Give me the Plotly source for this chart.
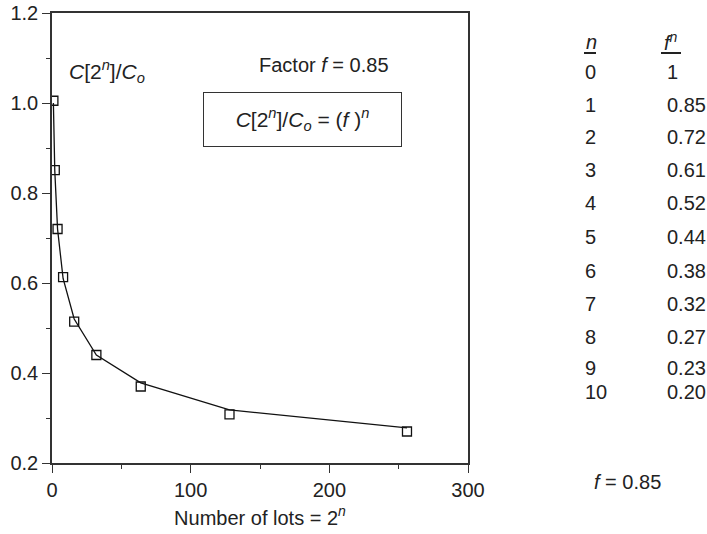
import plotly.graph_objects as go

# lots = 2^n, measured concentration ratio and the f^n curve
lots = [1, 2, 4, 8, 16, 32, 64, 128, 256]
ratio_measured = [1.005, 0.851, 0.72, 0.613, 0.514, 0.44, 0.37, 0.308, 0.27]
ratio_curve = [1.0, 0.85, 0.72, 0.61, 0.52, 0.44, 0.378, 0.318, 0.278]

# table on the right
n_vals = ["0", "1", "2", "3", "4", "5", "6", "7", "8", "9", "10"]
fn_vals = ["1", "0.85", "0.72", "0.61", "0.52", "0.44", "0.38", "0.32", "0.27", "0.23", "0.20"]
row_px = [72, 105, 137, 170, 203, 237, 271, 304, 337, 368, 392]

FONT = "Liberation Sans, Arial, sans-serif"
INK = "#222222"
AX = "#333333"

fig = go.Figure()
fig.add_trace(go.Scatter(x=lots, y=ratio_curve, mode="lines",
                         line=dict(color="#111111", width=1.3), showlegend=False))
fig.add_trace(go.Scatter(x=lots, y=ratio_measured, mode="markers",
                         marker=dict(symbol="square-open", size=9, color="#111111",
                                     line=dict(width=1.3)), showlegend=False))

# plot area spans px 52..468 x 13..463
def py(y):
    return (463 - y) / 450

def px_(x):
    return (x - 52) / 416

ann = []
ann.append(dict(x=px_(67), y=py(72), xref="paper", yref="paper", xanchor="left", yanchor="middle",
                text="<i>C</i>[2<sup><i>n</i></sup>]/<i>C</i><sub><i>o</i></sub>", showarrow=False,
                font=dict(size=21)))
ann.append(dict(x=px_(257), y=py(65), xref="paper", yref="paper", xanchor="left", yanchor="middle",
                text="Factor <i>f</i> = 0.85", showarrow=False))
ann.append(dict(x=px_(302.5), y=py(119.5), xref="paper", yref="paper", xanchor="center", yanchor="middle",
                text="<i>C</i>[2<sup><i>n</i></sup>]/<i>C</i><sub><i>o</i></sub> = (<i>f</i> )<sup><i>n</i></sup>",
                font=dict(size=21),
                showarrow=False, bordercolor=AX, borderwidth=1, borderpad=0,
                width=197, height=53))

ann.append(dict(x=px_(584), y=py(42), xref="paper", yref="paper", xanchor="left", yanchor="middle",
                text="<i>n</i>", showarrow=False))
ann.append(dict(x=px_(662), y=py(42), xref="paper", yref="paper", xanchor="left", yanchor="middle",
                text="<i>f</i><sup><i>n</i></sup>", showarrow=False))
for n, v, yy in zip(n_vals, fn_vals, row_px):
    ann.append(dict(x=px_(583), y=py(yy), xref="paper", yref="paper", xanchor="left", yanchor="middle",
                    text=n, showarrow=False))
    ann.append(dict(x=px_(665), y=py(yy), xref="paper", yref="paper", xanchor="left", yanchor="middle",
                    text=v, showarrow=False))
ann.append(dict(x=px_(627), y=py(482), xref="paper", yref="paper", xanchor="center", yanchor="middle",
                text="<i>f</i> = 0.85", showarrow=False))

# header underlines
shapes = [
    dict(type="line", xref="paper", yref="paper", x0=px_(584), x1=px_(596), y0=py(53), y1=py(53),
         line=dict(color=INK, width=2)),
    dict(type="line", xref="paper", yref="paper", x0=px_(661), x1=px_(681), y0=py(53), y1=py(53),
         line=dict(color=INK, width=2)),
]

fig.update_layout(
    width=707, height=534,
    margin=dict(l=52, r=239, t=13, b=71),
    paper_bgcolor="white", plot_bgcolor="white",
    font=dict(family=FONT, size=20, color=INK),
    annotations=ann, shapes=shapes,
)
fig.update_xaxes(range=[0, 300], tickvals=[0, 100, 200, 300], showgrid=False, zeroline=False,
                 showline=True, linecolor=AX, linewidth=1.5, mirror=True,
                 ticks="outside", ticklen=8, tickcolor=AX, tickwidth=1.3,
                 minor=dict(tickvals=[50, 150, 250], ticks="outside", ticklen=4,
                            tickcolor=AX, tickwidth=1.3),
                 title=dict(text="Number of lots = 2<sup><i>n</i></sup>", standoff=11,
                            font=dict(size=20)),
                 tickfont=dict(size=20), automargin=False, ticklabeloverflow="allow")
fig.update_yaxes(range=[0.2, 1.2], tickvals=[0.2, 0.4, 0.6, 0.8, 1.0, 1.2],
                 ticktext=["0.2", "0.4", "0.6", "0.8", "1.0", "1.2"],
                 showgrid=False, zeroline=False,
                 showline=True, linecolor=AX, linewidth=1.5, mirror=True,
                 ticks="outside", ticklen=8, tickcolor=AX, tickwidth=1.3,
                 minor=dict(tickvals=[0.3, 0.5, 0.7, 0.9, 1.1], ticks="outside", ticklen=4,
                            tickcolor=AX, tickwidth=1.3),
                 tickfont=dict(size=20), automargin=False, ticklabeloverflow="allow")

# drop the default 8px page margin so the figure sits at the window's corner
fig.write_html("out.html", config={"displayModeBar": False},
               post_script="document.body.style.margin='0';")
